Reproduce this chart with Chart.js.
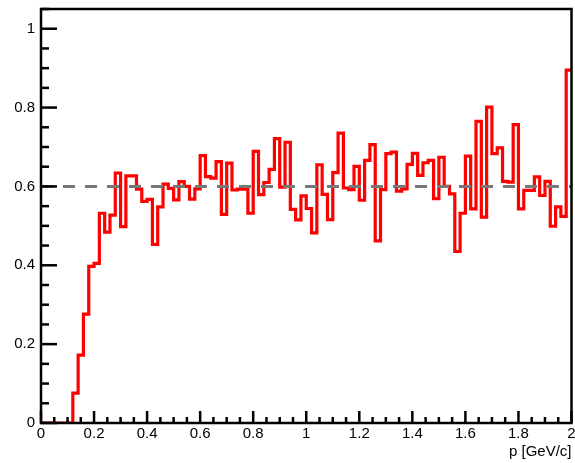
<!DOCTYPE html>
<html>
<head>
<meta charset="utf-8">
<script src="https://cdn.jsdelivr.net/npm/chart.js@4.4.1/dist/chart.umd.min.js"></script>
<style>
  html, body { margin: 0; padding: 0; background: #ffffff; }
  #wrap { width: 575px; height: 463px; }
</style>
</head>
<body>
<div id="wrap"><canvas id="c" width="575" height="463"></canvas></div>
<script>
// Histogram binning: 100 bins of 0.02 GeV/c from 0 to 2
const binWidth = 0.02;
const xRange = [0, 2];
const yRange = [0, 1.05];

// Bin contents, one value per bin (low edge = index * binWidth)
const binContents = [
  0, 0, 0, 0, 0, 0, 0.076, 0.172, 0.276, 0.397,
  0.405, 0.532, 0.484, 0.527, 0.634, 0.498, 0.627, 0.627, 0.593, 0.562,
  0.567, 0.453, 0.548, 0.606, 0.595, 0.566, 0.612, 0.600, 0.568, 0.594,
  0.678, 0.625, 0.621, 0.663, 0.529, 0.659, 0.591, 0.593, 0.593, 0.532,
  0.689, 0.579, 0.610, 0.643, 0.721, 0.598, 0.712, 0.542, 0.515, 0.576,
  0.544, 0.482, 0.655, 0.580, 0.516, 0.635, 0.735, 0.596, 0.592, 0.651,
  0.565, 0.666, 0.706, 0.462, 0.592, 0.683, 0.687, 0.588, 0.594, 0.656,
  0.684, 0.628, 0.660, 0.666, 0.569, 0.674, 0.600, 0.581, 0.435, 0.532,
  0.677, 0.543, 0.765, 0.522, 0.801, 0.683, 0.698, 0.613, 0.611, 0.757,
  0.543, 0.590, 0.590, 0.624, 0.577, 0.613, 0.499, 0.548, 0.524, 0.895
];

// Horizontal reference level
const refLevel = 0.6;

// Labelled (major) tick values
const xMajorTicks = [0, 0.2, 0.4, 0.6, 0.8, 1, 1.2, 1.4, 1.6, 1.8, 2];
const yMajorTicks = [0, 0.2, 0.4, 0.6, 0.8, 1];
const minorStep = 0.05;

const xTitle = 'p [GeV/c]';

// Step points at bin low edges, closed at the upper range limit
const histPoints = binContents.map((v, i) => ({ x: i * binWidth, y: v }));
histPoints.push({ x: xRange[1], y: binContents[binContents.length - 1] });

const refPoints = [{ x: xRange[0], y: refLevel }, { x: xRange[1], y: refLevel }];

const FONT = '"Liberation Sans", Arial, Helvetica, sans-serif';
const fmt = v => String(+v.toFixed(2));

// Keep the plot frame fixed: no extra room reserved for half-labels
const noEdgePadding = s => {
  s.paddingTop = 0; s.paddingBottom = 0; s.paddingLeft = 0; s.paddingRight = 0;
};

// Frame plus inward-pointing ticks drawn in ROOT fashion
const frameTicks = {
  id: 'frameTicks',
  afterDatasetsDraw(chart) {
    const { ctx, chartArea: a, scales: { x, y } } = chart;
    ctx.save();
    ctx.strokeStyle = '#000';
    ctx.lineWidth = 2.5;
    ctx.lineCap = 'butt';
    const nx = Math.round((xRange[1] - xRange[0]) / minorStep);
    for (let k = 0; k <= nx; k++) {
      const v = xRange[0] + k * minorStep;
      const px = x.getPixelForValue(v);
      const len = (k % 4 === 0) ? 12 : 6;
      ctx.beginPath();
      ctx.moveTo(px, a.bottom);
      ctx.lineTo(px, a.bottom - len);
      ctx.stroke();
    }
    const ny = Math.floor((yRange[1] - yRange[0]) / minorStep + 1e-6);
    for (let k = 0; k <= ny; k++) {
      const v = yRange[0] + k * minorStep;
      const py = y.getPixelForValue(v);
      const len = (k % 4 === 0) ? 16 : 8;
      ctx.beginPath();
      ctx.moveTo(a.left, py);
      ctx.lineTo(a.left + len, py);
      ctx.stroke();
    }
    ctx.lineWidth = 2.5;
    ctx.strokeRect(a.left, a.top, a.right - a.left, a.bottom - a.top);
    ctx.restore();
  }
};

new Chart(document.getElementById('c'), {
  type: 'line',
  data: {
    datasets: [
      {
        data: histPoints,
        stepped: 'before',
        borderColor: '#ff0000',
        borderWidth: 3.2,
        pointRadius: 0,
        fill: false,
        order: 2
      },
      {
        data: refPoints,
        borderColor: '#777777',
        borderWidth: 3,
        borderDash: [12, 10],
        pointRadius: 0,
        fill: false,
        order: 1
      }
    ]
  },
  options: {
    responsive: false,
    devicePixelRatio: 1,
    animation: false,
    events: [],
    layout: { padding: { left: 0, top: 9, right: 3.5, bottom: 0 } },
    plugins: { legend: { display: false }, tooltip: { enabled: false } },
    scales: {
      x: {
        type: 'linear',
        min: xRange[0],
        max: xRange[1],
        grid: { display: false, drawTicks: false },
        border: { display: false },
        afterFit: s => { s.height = 40; noEdgePadding(s); },
        afterBuildTicks: s => { s.ticks = xMajorTicks.map(v => ({ value: v })); },
        ticks: {
          maxRotation: 0,
          autoSkip: false,
          padding: 2,
          color: '#000',
          font: { family: FONT, size: 15 },
          callback: v => fmt(v)
        },
        title: {
          display: true,
          text: xTitle,
          align: 'end',
          color: '#000',
          font: { family: FONT, size: 15 },
          padding: { top: 0, bottom: 2 }
        }
      },
      y: {
        type: 'linear',
        min: yRange[0],
        max: yRange[1],
        grid: { display: false, drawTicks: false },
        border: { display: false },
        afterFit: s => { s.width = 41; noEdgePadding(s); },
        afterBuildTicks: s => { s.ticks = yMajorTicks.map(v => ({ value: v })); },
        ticks: {
          padding: 6,
          color: '#000',
          font: { family: FONT, size: 15 },
          callback: v => fmt(v)
        }
      }
    }
  },
  plugins: [frameTicks]
});
</script>
</body>
</html>
